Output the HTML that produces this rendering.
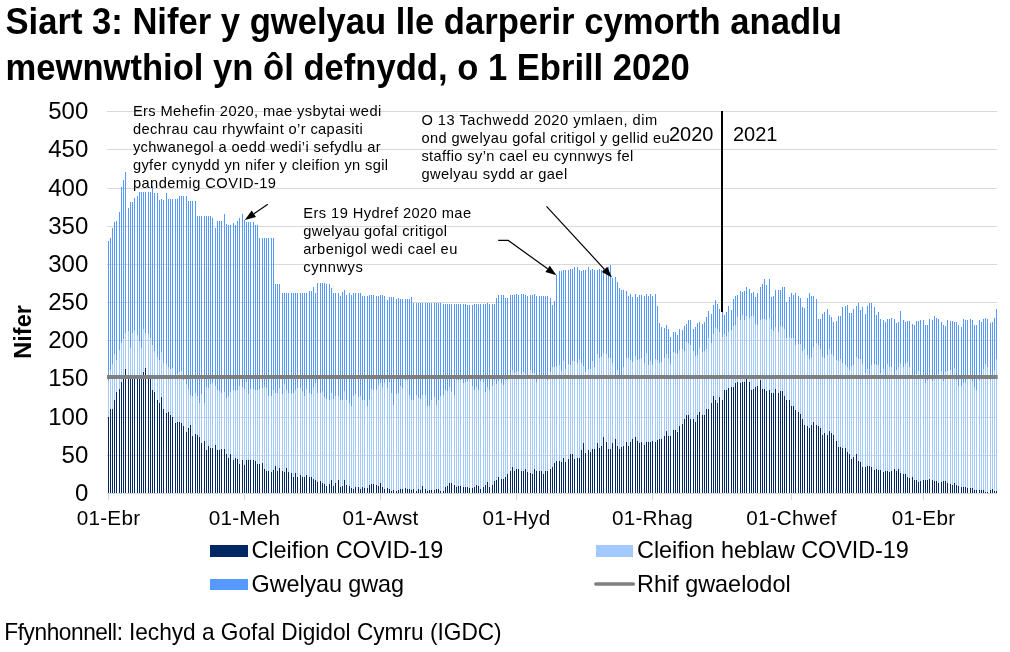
<!DOCTYPE html><html><head><meta charset="utf-8"><title>Siart 3</title><style>html,body{margin:0;padding:0;background:#fff}svg{display:block;will-change:transform}text{font-family:"Liberation Sans",sans-serif;fill:#000}</style></head><body>
<svg width="1010" height="652" viewBox="0 0 1010 652">
<rect width="1010" height="652" fill="#fff"/>
<path d="M107 455H997v1H107zM107 417H997v1H107zM107 378H997v1H107zM107 340H997v1H107zM107 302H997v1H107zM107 264H997v1H107zM107 226H997v1H107zM107 188H997v1H107zM107 149H997v1H107zM107 111H997v1H107z" fill="#D9D9D9" shape-rendering="crispEdges"/>
<path d="M108 241h1V381h-1zM110 238h1V370h-1zM112 228h1V364h-1zM114 222h1V354h-1zM116 221h1V360h-1zM119 212h1V350h-1zM121 187h1V343h-1zM123 180h1V339h-1zM125 172h1V333h-1zM128 208h1V331h-1zM130 202h1V348h-1zM132 202h1V333h-1zM134 198h1V330h-1zM137 196h1V335h-1zM139 192h1V341h-1zM141 192h1V348h-1zM143 192h1V329h-1zM145 192h1V333h-1zM148 192h1V334h-1zM150 192h1V338h-1zM152 186h1V345h-1zM154 193h1V351h-1zM157 193h1V357h-1zM159 200h1V360h-1zM161 199h1V352h-1zM163 200h1V363h-1zM166 193h1V364h-1zM168 199h1V367h-1zM170 199h1V369h-1zM172 199h1V368h-1zM175 199h1V375h-1zM177 199h1V374h-1zM179 196h1V372h-1zM181 196h1V371h-1zM183 196h1V380h-1zM186 196h1V384h-1zM188 201h1V389h-1zM190 201h1V395h-1zM192 201h1V396h-1zM195 201h1V393h-1zM197 216h1V396h-1zM199 216h1V403h-1zM201 216h1V394h-1zM204 216h1V403h-1zM206 216h1V387h-1zM208 216h1V388h-1zM210 216h1V384h-1zM212 218h1V383h-1zM215 228h1V386h-1zM217 221h1V390h-1zM219 221h1V391h-1zM221 221h1V393h-1zM224 214h1V392h-1zM226 224h1V398h-1zM228 225h1V396h-1zM230 225h1V392h-1zM233 223h1V390h-1zM235 225h1V391h-1zM237 221h1V390h-1zM239 218h1V386h-1zM242 214h1V387h-1zM244 220h1V389h-1zM246 222h1V382h-1zM248 222h1V394h-1zM250 222h1V389h-1zM253 222h1V389h-1zM255 225h1V390h-1zM257 225h1V390h-1zM259 238h1V389h-1zM262 238h1V388h-1zM264 238h1V387h-1zM266 238h1V388h-1zM268 238h1V396h-1zM271 238h1V396h-1zM273 238h1V390h-1zM275 284h1V393h-1zM277 284h1V393h-1zM279 284h1V388h-1zM282 293h1V394h-1zM284 293h1V384h-1zM286 293h1V390h-1zM288 293h1V393h-1zM291 293h1V393h-1zM293 293h1V393h-1zM295 293h1V390h-1zM297 293h1V388h-1zM300 293h1V388h-1zM302 293h1V391h-1zM304 293h1V396h-1zM306 293h1V389h-1zM309 291h1V393h-1zM311 291h1V394h-1zM313 287h1V387h-1zM315 293h1V383h-1zM317 283h1V393h-1zM320 283h1V393h-1zM322 283h1V391h-1zM324 283h1V397h-1zM326 284h1V399h-1zM329 284h1V400h-1zM331 288h1V393h-1zM333 293h1V399h-1zM335 293h1V396h-1zM338 293h1V396h-1zM340 296h1V400h-1zM342 292h1V400h-1zM344 290h1V391h-1zM346 295h1V400h-1zM349 293h1V403h-1zM351 295h1V406h-1zM353 293h1V396h-1zM355 293h1V394h-1zM358 293h1V397h-1zM360 293h1V396h-1zM362 296h1V400h-1zM364 296h1V400h-1zM367 296h1V406h-1zM369 295h1V399h-1zM371 295h1V389h-1zM373 295h1V390h-1zM376 296h1V390h-1zM378 296h1V385h-1zM380 295h1V383h-1zM382 295h1V387h-1zM384 296h1V383h-1zM387 300h1V388h-1zM389 297h1V382h-1zM391 297h1V393h-1zM393 297h1V405h-1zM396 299h1V394h-1zM398 298h1V393h-1zM400 299h1V386h-1zM402 299h1V388h-1zM405 299h1V380h-1zM407 299h1V380h-1zM409 299h1V395h-1zM411 297h1V400h-1zM413 303h1V400h-1zM416 303h1V395h-1zM418 303h1V398h-1zM420 303h1V399h-1zM422 303h1V395h-1zM425 303h1V395h-1zM427 303h1V406h-1zM429 303h1V406h-1zM431 303h1V400h-1zM434 303h1V397h-1zM436 303h1V405h-1zM438 303h1V400h-1zM440 303h1V396h-1zM443 304h1V395h-1zM445 304h1V390h-1zM447 304h1V391h-1zM449 304h1V387h-1zM451 304h1V392h-1zM454 304h1V395h-1zM456 304h1V380h-1zM458 304h1V380h-1zM460 304h1V380h-1zM463 304h1V383h-1zM465 304h1V382h-1zM467 305h1V381h-1zM469 305h1V379h-1zM472 305h1V386h-1zM474 304h1V390h-1zM476 304h1V387h-1zM478 304h1V390h-1zM480 304h1V381h-1zM483 304h1V382h-1zM485 304h1V392h-1zM487 303h1V387h-1zM489 304h1V390h-1zM492 304h1V386h-1zM494 304h1V380h-1zM496 298h1V384h-1zM498 295h1V381h-1zM501 295h1V383h-1zM503 295h1V385h-1zM505 298h1V380h-1zM507 298h1V380h-1zM510 295h1V377h-1zM512 295h1V370h-1zM514 295h1V373h-1zM516 294h1V372h-1zM518 295h1V371h-1zM521 294h1V374h-1zM523 294h1V372h-1zM525 295h1V374h-1zM527 296h1V375h-1zM530 295h1V370h-1zM532 295h1V373h-1zM534 294h1V373h-1zM536 296h1V382h-1zM539 296h1V375h-1zM541 296h1V375h-1zM543 296h1V375h-1zM545 296h1V375h-1zM547 296h1V380h-1zM550 298h1V372h-1zM552 305h1V367h-1zM554 301h1V367h-1zM556 275h1V366h-1zM559 271h1V365h-1zM561 271h1V371h-1zM563 270h1V361h-1zM565 270h1V369h-1zM568 270h1V364h-1zM570 269h1V365h-1zM572 269h1V361h-1zM574 267h1V361h-1zM577 267h1V363h-1zM579 270h1V359h-1zM581 271h1V363h-1zM583 270h1V366h-1zM585 270h1V372h-1zM588 267h1V369h-1zM590 270h1V369h-1zM592 269h1V361h-1zM594 270h1V367h-1zM597 270h1V354h-1zM599 269h1V358h-1zM601 270h1V357h-1zM603 269h1V353h-1zM606 268h1V354h-1zM608 267h1V358h-1zM610 265h1V358h-1zM612 278h1V363h-1zM615 277h1V375h-1zM617 282h1V370h-1zM619 288h1V375h-1zM621 290h1V375h-1zM623 290h1V367h-1zM626 291h1V358h-1zM628 296h1V358h-1zM630 294h1V360h-1zM632 297h1V362h-1zM635 294h1V356h-1zM637 297h1V360h-1zM639 295h1V359h-1zM641 295h1V358h-1zM644 296h1V363h-1zM646 294h1V353h-1zM648 296h1V365h-1zM650 294h1V361h-1zM652 296h1V365h-1zM655 294h1V359h-1zM657 306h1V360h-1zM659 323h1V363h-1zM661 327h1V362h-1zM664 328h1V358h-1zM666 325h1V354h-1zM668 329h1V358h-1zM670 337h1V364h-1zM673 332h1V352h-1zM675 332h1V353h-1zM677 335h1V354h-1zM679 329h1V350h-1zM682 330h1V349h-1zM684 326h1V351h-1zM686 324h1V342h-1zM688 320h1V343h-1zM690 320h1V345h-1zM693 329h1V351h-1zM695 327h1V356h-1zM697 323h1V355h-1zM699 322h1V348h-1zM702 324h1V352h-1zM704 322h1V351h-1zM706 317h1V349h-1zM708 311h1V338h-1zM711 314h1V343h-1zM713 305h1V334h-1zM715 300h1V327h-1zM717 304h1V329h-1zM719 309h1V332h-1zM722 312h1V337h-1zM724 315h1V334h-1zM726 312h1V336h-1zM728 306h1V332h-1zM731 310h1V330h-1zM733 299h1V326h-1zM735 296h1V325h-1zM737 295h1V317h-1zM740 291h1V320h-1zM742 292h1V315h-1zM744 291h1V320h-1zM746 287h1V316h-1zM749 289h1V318h-1zM751 293h1V316h-1zM753 292h1V316h-1zM755 297h1V324h-1zM757 293h1V325h-1zM760 287h1V320h-1zM762 284h1V319h-1zM764 279h1V319h-1zM766 285h1V320h-1zM769 279h1V318h-1zM771 297h1V329h-1zM773 296h1V331h-1zM775 290h1V327h-1zM778 290h1V332h-1zM780 290h1V326h-1zM782 287h1V327h-1zM784 287h1V329h-1zM786 302h1V338h-1zM789 297h1V337h-1zM791 293h1V338h-1zM793 295h1V338h-1zM795 293h1V345h-1zM798 296h1V344h-1zM800 298h1V344h-1zM802 307h1V351h-1zM804 308h1V349h-1zM807 298h1V355h-1zM809 293h1V359h-1zM811 296h1V357h-1zM813 296h1V347h-1zM816 299h1V343h-1zM818 319h1V345h-1zM820 319h1V349h-1zM822 314h1V357h-1zM824 312h1V358h-1zM827 309h1V355h-1zM829 315h1V349h-1zM831 317h1V354h-1zM833 322h1V356h-1zM836 321h1V360h-1zM838 316h1V361h-1zM840 316h1V359h-1zM842 307h1V363h-1zM845 306h1V365h-1zM847 305h1V367h-1zM849 313h1V370h-1zM851 313h1V366h-1zM853 309h1V365h-1zM856 306h1V357h-1zM858 303h1V359h-1zM860 310h1V359h-1zM862 307h1V364h-1zM865 314h1V373h-1zM867 306h1V369h-1zM869 303h1V374h-1zM871 303h1V365h-1zM874 307h1V364h-1zM876 315h1V365h-1zM878 312h1V365h-1zM880 319h1V373h-1zM883 320h1V369h-1zM885 322h1V376h-1zM887 319h1V364h-1zM889 319h1V367h-1zM891 318h1V367h-1zM894 319h1V376h-1zM896 323h1V370h-1zM898 322h1V367h-1zM900 311h1V364h-1zM903 320h1V367h-1zM905 322h1V364h-1zM907 321h1V362h-1zM909 321h1V367h-1zM912 324h1V376h-1zM914 325h1V376h-1zM916 321h1V374h-1zM918 321h1V371h-1zM920 320h1V376h-1zM923 320h1V376h-1zM925 325h1V383h-1zM927 325h1V380h-1zM929 319h1V379h-1zM932 320h1V381h-1zM934 316h1V376h-1zM936 318h1V376h-1zM938 319h1V374h-1zM941 322h1V371h-1zM943 325h1V381h-1zM945 326h1V372h-1zM947 320h1V371h-1zM950 321h1V370h-1zM952 321h1V376h-1zM954 322h1V368h-1zM956 322h1V380h-1zM958 325h1V386h-1zM961 327h1V386h-1zM963 319h1V383h-1zM965 320h1V382h-1zM967 320h1V377h-1zM970 319h1V377h-1zM972 320h1V381h-1zM974 325h1V387h-1zM976 325h1V390h-1zM979 320h1V380h-1zM981 322h1V376h-1zM983 319h1V369h-1zM985 318h1V364h-1zM987 319h1V367h-1zM990 323h1V380h-1zM992 322h1V376h-1zM994 318h1V370h-1zM996 309h1V359h-1z" fill="#5599FF" shape-rendering="crispEdges"/>
<path d="M108 381h1V417h-1zM110 370h1V409h-1zM112 364h1V409h-1zM114 354h1V400h-1zM116 360h1V392h-1zM119 350h1V389h-1zM121 343h1V382h-1zM123 339h1V379h-1zM125 333h1V369h-1zM128 331h1V377h-1zM130 348h1V377h-1zM132 333h1V376h-1zM134 330h1V375h-1zM137 335h1V376h-1zM139 341h1V377h-1zM141 348h1V375h-1zM143 329h1V372h-1zM145 333h1V368h-1zM148 334h1V377h-1zM150 338h1V379h-1zM152 345h1V390h-1zM154 351h1V392h-1zM157 357h1V400h-1zM159 360h1V403h-1zM161 352h1V397h-1zM163 363h1V409h-1zM166 364h1V413h-1zM168 367h1V412h-1zM170 369h1V415h-1zM172 368h1V417h-1zM175 375h1V423h-1zM177 374h1V422h-1zM179 372h1V422h-1zM181 371h1V423h-1zM183 380h1V426h-1zM186 384h1V432h-1zM188 389h1V428h-1zM190 395h1V425h-1zM192 396h1V436h-1zM195 393h1V434h-1zM197 396h1V435h-1zM199 403h1V437h-1zM201 394h1V443h-1zM204 403h1V441h-1zM206 387h1V450h-1zM208 388h1V446h-1zM210 384h1V448h-1zM212 383h1V448h-1zM215 386h1V445h-1zM217 390h1V450h-1zM219 391h1V450h-1zM221 393h1V449h-1zM224 392h1V449h-1zM226 398h1V454h-1zM228 396h1V458h-1zM230 392h1V454h-1zM233 390h1V460h-1zM235 391h1V458h-1zM237 390h1V459h-1zM239 386h1V464h-1zM242 387h1V460h-1zM244 389h1V465h-1zM246 382h1V460h-1zM248 394h1V460h-1zM250 389h1V460h-1zM253 389h1V460h-1zM255 390h1V461h-1zM257 390h1V464h-1zM259 389h1V464h-1zM262 388h1V463h-1zM264 387h1V469h-1zM266 388h1V471h-1zM268 396h1V471h-1zM271 396h1V472h-1zM273 390h1V470h-1zM275 393h1V466h-1zM277 393h1V471h-1zM279 388h1V468h-1zM282 394h1V471h-1zM284 384h1V472h-1zM286 390h1V468h-1zM288 393h1V472h-1zM291 393h1V473h-1zM293 393h1V477h-1zM295 390h1V473h-1zM297 388h1V477h-1zM300 388h1V475h-1zM302 391h1V477h-1zM304 396h1V477h-1zM306 389h1V475h-1zM309 393h1V477h-1zM311 394h1V477h-1zM313 387h1V479h-1zM315 383h1V480h-1zM317 393h1V482h-1zM320 393h1V481h-1zM322 391h1V483h-1zM324 397h1V484h-1zM326 399h1V486h-1zM329 400h1V484h-1zM331 393h1V480h-1zM333 399h1V486h-1zM335 396h1V483h-1zM338 396h1V480h-1zM340 400h1V487h-1zM342 400h1V486h-1zM344 391h1V480h-1zM346 400h1V485h-1zM349 403h1V486h-1zM351 406h1V488h-1zM353 396h1V489h-1zM355 394h1V487h-1zM358 397h1V487h-1zM360 396h1V489h-1zM362 400h1V487h-1zM364 400h1V488h-1zM367 406h1V488h-1zM369 399h1V485h-1zM371 389h1V484h-1zM373 390h1V484h-1zM376 390h1V485h-1zM378 385h1V486h-1zM380 383h1V483h-1zM382 387h1V487h-1zM384 383h1V489h-1zM387 388h1V488h-1zM389 382h1V489h-1zM391 393h1V491h-1zM393 405h1V490h-1zM396 394h1V491h-1zM398 393h1V490h-1zM400 386h1V489h-1zM402 388h1V489h-1zM405 380h1V488h-1zM407 380h1V489h-1zM409 395h1V489h-1zM411 400h1V490h-1zM413 400h1V489h-1zM416 395h1V491h-1zM418 398h1V489h-1zM420 399h1V490h-1zM422 395h1V486h-1zM425 395h1V489h-1zM427 406h1V491h-1zM429 406h1V490h-1zM431 400h1V490h-1zM434 397h1V490h-1zM436 405h1V489h-1zM438 400h1V489h-1zM440 396h1V491h-1zM443 395h1V491h-1zM445 390h1V487h-1zM447 391h1V486h-1zM449 387h1V483h-1zM451 392h1V483h-1zM454 395h1V485h-1zM456 380h1V487h-1zM458 380h1V486h-1zM460 380h1V486h-1zM463 383h1V487h-1zM465 382h1V487h-1zM467 381h1V487h-1zM469 379h1V488h-1zM472 386h1V488h-1zM474 390h1V487h-1zM476 387h1V485h-1zM478 390h1V486h-1zM480 381h1V489h-1zM483 382h1V487h-1zM485 392h1V485h-1zM487 387h1V482h-1zM489 390h1V487h-1zM492 386h1V485h-1zM494 380h1V481h-1zM496 384h1V480h-1zM498 381h1V477h-1zM501 383h1V479h-1zM503 385h1V479h-1zM505 380h1V477h-1zM507 380h1V474h-1zM510 377h1V471h-1zM512 370h1V467h-1zM514 373h1V471h-1zM516 372h1V469h-1zM518 371h1V469h-1zM521 374h1V471h-1zM523 372h1V471h-1zM525 374h1V469h-1zM527 375h1V472h-1zM530 370h1V473h-1zM532 373h1V474h-1zM534 373h1V469h-1zM536 382h1V471h-1zM539 375h1V471h-1zM541 375h1V471h-1zM543 375h1V474h-1zM545 375h1V471h-1zM547 380h1V471h-1zM550 372h1V469h-1zM552 367h1V467h-1zM554 367h1V463h-1zM556 366h1V461h-1zM559 365h1V461h-1zM561 371h1V462h-1zM563 361h1V458h-1zM565 369h1V462h-1zM568 364h1V459h-1zM570 365h1V454h-1zM572 361h1V454h-1zM574 361h1V459h-1zM577 363h1V458h-1zM579 359h1V458h-1zM581 363h1V450h-1zM583 366h1V443h-1zM585 372h1V453h-1zM588 369h1V450h-1zM590 369h1V452h-1zM592 361h1V449h-1zM594 367h1V449h-1zM597 354h1V443h-1zM599 358h1V448h-1zM601 357h1V446h-1zM603 353h1V437h-1zM606 354h1V442h-1zM608 358h1V449h-1zM610 358h1V449h-1zM612 363h1V443h-1zM615 375h1V439h-1zM617 370h1V446h-1zM619 375h1V449h-1zM621 375h1V447h-1zM623 367h1V446h-1zM626 358h1V442h-1zM628 358h1V446h-1zM630 360h1V442h-1zM632 362h1V439h-1zM635 356h1V437h-1zM637 360h1V441h-1zM639 359h1V443h-1zM641 358h1V442h-1zM644 363h1V445h-1zM646 353h1V442h-1zM648 365h1V442h-1zM650 361h1V442h-1zM652 365h1V441h-1zM655 359h1V442h-1zM657 360h1V440h-1zM659 363h1V439h-1zM661 362h1V439h-1zM664 358h1V436h-1zM666 354h1V431h-1zM668 358h1V436h-1zM670 364h1V436h-1zM673 352h1V430h-1zM675 353h1V430h-1zM677 354h1V432h-1zM679 350h1V426h-1zM682 349h1V424h-1zM684 351h1V419h-1zM686 342h1V415h-1zM688 343h1V415h-1zM690 345h1V419h-1zM693 351h1V419h-1zM695 356h1V422h-1zM697 355h1V415h-1zM699 348h1V412h-1zM702 352h1V415h-1zM704 351h1V415h-1zM706 349h1V409h-1zM708 338h1V409h-1zM711 343h1V403h-1zM713 334h1V396h-1zM715 327h1V400h-1zM717 329h1V403h-1zM719 332h1V397h-1zM722 337h1V400h-1zM724 334h1V390h-1zM726 336h1V390h-1zM728 332h1V388h-1zM731 330h1V387h-1zM733 326h1V387h-1zM735 325h1V383h-1zM737 317h1V382h-1zM740 320h1V383h-1zM742 315h1V382h-1zM744 320h1V382h-1zM746 316h1V379h-1zM749 318h1V382h-1zM751 316h1V390h-1zM753 316h1V389h-1zM755 324h1V387h-1zM757 325h1V386h-1zM760 320h1V380h-1zM762 319h1V389h-1zM764 319h1V389h-1zM766 320h1V391h-1zM769 318h1V390h-1zM771 329h1V393h-1zM773 331h1V393h-1zM775 327h1V389h-1zM778 332h1V393h-1zM780 326h1V391h-1zM782 327h1V391h-1zM784 329h1V396h-1zM786 338h1V400h-1zM789 337h1V400h-1zM791 338h1V406h-1zM793 338h1V406h-1zM795 345h1V410h-1zM798 344h1V412h-1zM800 344h1V414h-1zM802 351h1V419h-1zM804 349h1V425h-1zM807 355h1V426h-1zM809 359h1V428h-1zM811 357h1V425h-1zM813 347h1V422h-1zM816 343h1V425h-1zM818 345h1V426h-1zM820 349h1V428h-1zM822 357h1V435h-1zM824 358h1V433h-1zM827 355h1V435h-1zM829 349h1V431h-1zM831 354h1V433h-1zM833 356h1V435h-1zM836 360h1V441h-1zM838 361h1V447h-1zM840 359h1V447h-1zM842 363h1V448h-1zM845 365h1V448h-1zM847 367h1V452h-1zM849 370h1V454h-1zM851 366h1V459h-1zM853 365h1V457h-1zM856 357h1V454h-1zM858 359h1V461h-1zM860 359h1V462h-1zM862 364h1V467h-1zM865 373h1V467h-1zM867 369h1V466h-1zM869 374h1V466h-1zM871 365h1V467h-1zM874 364h1V470h-1zM876 365h1V469h-1zM878 365h1V470h-1zM880 373h1V470h-1zM883 369h1V472h-1zM885 376h1V471h-1zM887 364h1V471h-1zM889 367h1V472h-1zM891 367h1V471h-1zM894 376h1V469h-1zM896 370h1V471h-1zM898 367h1V469h-1zM900 364h1V473h-1zM903 367h1V474h-1zM905 364h1V474h-1zM907 362h1V477h-1zM909 367h1V478h-1zM912 376h1V477h-1zM914 376h1V480h-1zM916 374h1V480h-1zM918 371h1V482h-1zM920 376h1V481h-1zM923 376h1V480h-1zM925 383h1V480h-1zM927 380h1V480h-1zM929 379h1V479h-1zM932 381h1V480h-1zM934 376h1V481h-1zM936 376h1V481h-1zM938 374h1V483h-1zM941 371h1V482h-1zM943 381h1V481h-1zM945 372h1V481h-1zM947 371h1V483h-1zM950 370h1V484h-1zM952 376h1V485h-1zM954 368h1V483h-1zM956 380h1V485h-1zM958 386h1V486h-1zM961 386h1V487h-1zM963 383h1V487h-1zM965 382h1V487h-1zM967 377h1V488h-1zM970 377h1V488h-1zM972 381h1V488h-1zM974 387h1V490h-1zM976 390h1V490h-1zM979 380h1V490h-1zM981 376h1V490h-1zM983 369h1V490h-1zM985 364h1V492h-1zM987 367h1V492h-1zM990 380h1V490h-1zM992 376h1V489h-1zM994 370h1V491h-1zM996 359h1V491h-1z" fill="#A2C9FF" shape-rendering="crispEdges"/>
<path d="M108 417h1V493h-1zM110 409h1V493h-1zM112 409h1V493h-1zM114 400h1V493h-1zM116 392h1V493h-1zM119 389h1V493h-1zM121 382h1V493h-1zM123 379h1V493h-1zM125 369h1V493h-1zM128 377h1V493h-1zM130 377h1V493h-1zM132 376h1V493h-1zM134 375h1V493h-1zM137 376h1V493h-1zM139 377h1V493h-1zM141 375h1V493h-1zM143 372h1V493h-1zM145 368h1V493h-1zM148 377h1V493h-1zM150 379h1V493h-1zM152 390h1V493h-1zM154 392h1V493h-1zM157 400h1V493h-1zM159 403h1V493h-1zM161 397h1V493h-1zM163 409h1V493h-1zM166 413h1V493h-1zM168 412h1V493h-1zM170 415h1V493h-1zM172 417h1V493h-1zM175 423h1V493h-1zM177 422h1V493h-1zM179 422h1V493h-1zM181 423h1V493h-1zM183 426h1V493h-1zM186 432h1V493h-1zM188 428h1V493h-1zM190 425h1V493h-1zM192 436h1V493h-1zM195 434h1V493h-1zM197 435h1V493h-1zM199 437h1V493h-1zM201 443h1V493h-1zM204 441h1V493h-1zM206 450h1V493h-1zM208 446h1V493h-1zM210 448h1V493h-1zM212 448h1V493h-1zM215 445h1V493h-1zM217 450h1V493h-1zM219 450h1V493h-1zM221 449h1V493h-1zM224 449h1V493h-1zM226 454h1V493h-1zM228 458h1V493h-1zM230 454h1V493h-1zM233 460h1V493h-1zM235 458h1V493h-1zM237 459h1V493h-1zM239 464h1V493h-1zM242 460h1V493h-1zM244 465h1V493h-1zM246 460h1V493h-1zM248 460h1V493h-1zM250 460h1V493h-1zM253 460h1V493h-1zM255 461h1V493h-1zM257 464h1V493h-1zM259 464h1V493h-1zM262 463h1V493h-1zM264 469h1V493h-1zM266 471h1V493h-1zM268 471h1V493h-1zM271 472h1V493h-1zM273 470h1V493h-1zM275 466h1V493h-1zM277 471h1V493h-1zM279 468h1V493h-1zM282 471h1V493h-1zM284 472h1V493h-1zM286 468h1V493h-1zM288 472h1V493h-1zM291 473h1V493h-1zM293 477h1V493h-1zM295 473h1V493h-1zM297 477h1V493h-1zM300 475h1V493h-1zM302 477h1V493h-1zM304 477h1V493h-1zM306 475h1V493h-1zM309 477h1V493h-1zM311 477h1V493h-1zM313 479h1V493h-1zM315 480h1V493h-1zM317 482h1V493h-1zM320 481h1V493h-1zM322 483h1V493h-1zM324 484h1V493h-1zM326 486h1V493h-1zM329 484h1V493h-1zM331 480h1V493h-1zM333 486h1V493h-1zM335 483h1V493h-1zM338 480h1V493h-1zM340 487h1V493h-1zM342 486h1V493h-1zM344 480h1V493h-1zM346 485h1V493h-1zM349 486h1V493h-1zM351 488h1V493h-1zM353 489h1V493h-1zM355 487h1V493h-1zM358 487h1V493h-1zM360 489h1V493h-1zM362 487h1V493h-1zM364 488h1V493h-1zM367 488h1V493h-1zM369 485h1V493h-1zM371 484h1V493h-1zM373 484h1V493h-1zM376 485h1V493h-1zM378 486h1V493h-1zM380 483h1V493h-1zM382 487h1V493h-1zM384 489h1V493h-1zM387 488h1V493h-1zM389 489h1V493h-1zM391 491h1V493h-1zM393 490h1V493h-1zM396 491h1V493h-1zM398 490h1V493h-1zM400 489h1V493h-1zM402 489h1V493h-1zM405 488h1V493h-1zM407 489h1V493h-1zM409 489h1V493h-1zM411 490h1V493h-1zM413 489h1V493h-1zM416 491h1V493h-1zM418 489h1V493h-1zM420 490h1V493h-1zM422 486h1V493h-1zM425 489h1V493h-1zM427 491h1V493h-1zM429 490h1V493h-1zM431 490h1V493h-1zM434 490h1V493h-1zM436 489h1V493h-1zM438 489h1V493h-1zM440 491h1V493h-1zM443 491h1V493h-1zM445 487h1V493h-1zM447 486h1V493h-1zM449 483h1V493h-1zM451 483h1V493h-1zM454 485h1V493h-1zM456 487h1V493h-1zM458 486h1V493h-1zM460 486h1V493h-1zM463 487h1V493h-1zM465 487h1V493h-1zM467 487h1V493h-1zM469 488h1V493h-1zM472 488h1V493h-1zM474 487h1V493h-1zM476 485h1V493h-1zM478 486h1V493h-1zM480 489h1V493h-1zM483 487h1V493h-1zM485 485h1V493h-1zM487 482h1V493h-1zM489 487h1V493h-1zM492 485h1V493h-1zM494 481h1V493h-1zM496 480h1V493h-1zM498 477h1V493h-1zM501 479h1V493h-1zM503 479h1V493h-1zM505 477h1V493h-1zM507 474h1V493h-1zM510 471h1V493h-1zM512 467h1V493h-1zM514 471h1V493h-1zM516 469h1V493h-1zM518 469h1V493h-1zM521 471h1V493h-1zM523 471h1V493h-1zM525 469h1V493h-1zM527 472h1V493h-1zM530 473h1V493h-1zM532 474h1V493h-1zM534 469h1V493h-1zM536 471h1V493h-1zM539 471h1V493h-1zM541 471h1V493h-1zM543 474h1V493h-1zM545 471h1V493h-1zM547 471h1V493h-1zM550 469h1V493h-1zM552 467h1V493h-1zM554 463h1V493h-1zM556 461h1V493h-1zM559 461h1V493h-1zM561 462h1V493h-1zM563 458h1V493h-1zM565 462h1V493h-1zM568 459h1V493h-1zM570 454h1V493h-1zM572 454h1V493h-1zM574 459h1V493h-1zM577 458h1V493h-1zM579 458h1V493h-1zM581 450h1V493h-1zM583 443h1V493h-1zM585 453h1V493h-1zM588 450h1V493h-1zM590 452h1V493h-1zM592 449h1V493h-1zM594 449h1V493h-1zM597 443h1V493h-1zM599 448h1V493h-1zM601 446h1V493h-1zM603 437h1V493h-1zM606 442h1V493h-1zM608 449h1V493h-1zM610 449h1V493h-1zM612 443h1V493h-1zM615 439h1V493h-1zM617 446h1V493h-1zM619 449h1V493h-1zM621 447h1V493h-1zM623 446h1V493h-1zM626 442h1V493h-1zM628 446h1V493h-1zM630 442h1V493h-1zM632 439h1V493h-1zM635 437h1V493h-1zM637 441h1V493h-1zM639 443h1V493h-1zM641 442h1V493h-1zM644 445h1V493h-1zM646 442h1V493h-1zM648 442h1V493h-1zM650 442h1V493h-1zM652 441h1V493h-1zM655 442h1V493h-1zM657 440h1V493h-1zM659 439h1V493h-1zM661 439h1V493h-1zM664 436h1V493h-1zM666 431h1V493h-1zM668 436h1V493h-1zM670 436h1V493h-1zM673 430h1V493h-1zM675 430h1V493h-1zM677 432h1V493h-1zM679 426h1V493h-1zM682 424h1V493h-1zM684 419h1V493h-1zM686 415h1V493h-1zM688 415h1V493h-1zM690 419h1V493h-1zM693 419h1V493h-1zM695 422h1V493h-1zM697 415h1V493h-1zM699 412h1V493h-1zM702 415h1V493h-1zM704 415h1V493h-1zM706 409h1V493h-1zM708 409h1V493h-1zM711 403h1V493h-1zM713 396h1V493h-1zM715 400h1V493h-1zM717 403h1V493h-1zM719 397h1V493h-1zM722 400h1V493h-1zM724 390h1V493h-1zM726 390h1V493h-1zM728 388h1V493h-1zM731 387h1V493h-1zM733 387h1V493h-1zM735 383h1V493h-1zM737 382h1V493h-1zM740 383h1V493h-1zM742 382h1V493h-1zM744 382h1V493h-1zM746 379h1V493h-1zM749 382h1V493h-1zM751 390h1V493h-1zM753 389h1V493h-1zM755 387h1V493h-1zM757 386h1V493h-1zM760 380h1V493h-1zM762 389h1V493h-1zM764 389h1V493h-1zM766 391h1V493h-1zM769 390h1V493h-1zM771 393h1V493h-1zM773 393h1V493h-1zM775 389h1V493h-1zM778 393h1V493h-1zM780 391h1V493h-1zM782 391h1V493h-1zM784 396h1V493h-1zM786 400h1V493h-1zM789 400h1V493h-1zM791 406h1V493h-1zM793 406h1V493h-1zM795 410h1V493h-1zM798 412h1V493h-1zM800 414h1V493h-1zM802 419h1V493h-1zM804 425h1V493h-1zM807 426h1V493h-1zM809 428h1V493h-1zM811 425h1V493h-1zM813 422h1V493h-1zM816 425h1V493h-1zM818 426h1V493h-1zM820 428h1V493h-1zM822 435h1V493h-1zM824 433h1V493h-1zM827 435h1V493h-1zM829 431h1V493h-1zM831 433h1V493h-1zM833 435h1V493h-1zM836 441h1V493h-1zM838 447h1V493h-1zM840 447h1V493h-1zM842 448h1V493h-1zM845 448h1V493h-1zM847 452h1V493h-1zM849 454h1V493h-1zM851 459h1V493h-1zM853 457h1V493h-1zM856 454h1V493h-1zM858 461h1V493h-1zM860 462h1V493h-1zM862 467h1V493h-1zM865 467h1V493h-1zM867 466h1V493h-1zM869 466h1V493h-1zM871 467h1V493h-1zM874 470h1V493h-1zM876 469h1V493h-1zM878 470h1V493h-1zM880 470h1V493h-1zM883 472h1V493h-1zM885 471h1V493h-1zM887 471h1V493h-1zM889 472h1V493h-1zM891 471h1V493h-1zM894 469h1V493h-1zM896 471h1V493h-1zM898 469h1V493h-1zM900 473h1V493h-1zM903 474h1V493h-1zM905 474h1V493h-1zM907 477h1V493h-1zM909 478h1V493h-1zM912 477h1V493h-1zM914 480h1V493h-1zM916 480h1V493h-1zM918 482h1V493h-1zM920 481h1V493h-1zM923 480h1V493h-1zM925 480h1V493h-1zM927 480h1V493h-1zM929 479h1V493h-1zM932 480h1V493h-1zM934 481h1V493h-1zM936 481h1V493h-1zM938 483h1V493h-1zM941 482h1V493h-1zM943 481h1V493h-1zM945 481h1V493h-1zM947 483h1V493h-1zM950 484h1V493h-1zM952 485h1V493h-1zM954 483h1V493h-1zM956 485h1V493h-1zM958 486h1V493h-1zM961 487h1V493h-1zM963 487h1V493h-1zM965 487h1V493h-1zM967 488h1V493h-1zM970 488h1V493h-1zM972 488h1V493h-1zM974 490h1V493h-1zM976 490h1V493h-1zM979 490h1V493h-1zM981 490h1V493h-1zM983 490h1V493h-1zM985 492h1V493h-1zM987 492h1V493h-1zM990 490h1V493h-1zM992 489h1V493h-1zM994 491h1V493h-1zM996 491h1V493h-1z" fill="#002664" shape-rendering="crispEdges"/>
<path d="M107 493H997v1H107z" fill="#D9D9D9" shape-rendering="crispEdges"/>
<path d="M108 494h1v6h-1zM244 494h1v6h-1zM380 494h1v6h-1zM516 494h1v6h-1zM652 494h1v6h-1zM791 494h1v6h-1zM923 494h1v6h-1z" fill="#D9D9D9" shape-rendering="crispEdges"/>
<rect x="107" y="375" width="890.7" height="4" fill="#7F7F7F"/>
<path d="M722 111V312" stroke="#000" stroke-width="2" fill="none"/>
<text x="88.3" y="501.1" font-size="24" text-anchor="end">0</text>
<text x="88.3" y="463.1" font-size="24" text-anchor="end">50</text>
<text x="88.3" y="425.1" font-size="24" text-anchor="end">100</text>
<text x="88.3" y="386.1" font-size="24" text-anchor="end">150</text>
<text x="88.3" y="348.1" font-size="24" text-anchor="end">200</text>
<text x="88.3" y="310.1" font-size="24" text-anchor="end">250</text>
<text x="88.3" y="272.1" font-size="24" text-anchor="end">300</text>
<text x="88.3" y="234.1" font-size="24" text-anchor="end">350</text>
<text x="88.3" y="196.1" font-size="24" text-anchor="end">400</text>
<text x="88.3" y="157.1" font-size="24" text-anchor="end">450</text>
<text x="88.3" y="119.1" font-size="24" text-anchor="end">500</text>
<text x="108.5" y="524.7" font-size="20.7" letter-spacing="0.25" text-anchor="middle">01-Ebr</text>
<text x="244.5" y="524.7" font-size="20.7" letter-spacing="0.25" text-anchor="middle">01-Meh</text>
<text x="380.5" y="524.7" font-size="20.7" letter-spacing="0.25" text-anchor="middle">01-Awst</text>
<text x="516.5" y="524.7" font-size="20.7" letter-spacing="0.25" text-anchor="middle">01-Hyd</text>
<text x="652.5" y="524.7" font-size="20.7" letter-spacing="0.25" text-anchor="middle">01-Rhag</text>
<text x="791.5" y="524.7" font-size="20.7" letter-spacing="0.25" text-anchor="middle">01-Chwef</text>
<text x="923.5" y="524.7" font-size="20.7" letter-spacing="0.25" text-anchor="middle">01-Ebr</text>
<text transform="translate(30.8,331.9) rotate(-90)" font-size="23.5" font-weight="bold" text-anchor="middle">Nifer</text>
<text transform="translate(5.5,34.3) scale(1,1.05)" font-size="34.6" font-weight="bold">Siart 3: Nifer y gwelyau lle darperir cymorth anadlu</text>
<text transform="translate(5.5,79.6) scale(1,1.05)" font-size="34.6" font-weight="bold">mewnwthiol yn ôl defnydd, o 1 Ebrill 2020</text>
<text transform="translate(132.9,116.0) scale(1,1.045)" font-size="14.67" textLength="248.3" lengthAdjust="spacing">Ers Mehefin 2020, mae ysbytai wedi</text>
<text transform="translate(132.9,134.0) scale(1,1.045)" font-size="14.67" textLength="229.8" lengthAdjust="spacing">dechrau cau rhywfaint o’r capasiti</text>
<text transform="translate(132.9,152.0) scale(1,1.045)" font-size="14.67" textLength="247.7" lengthAdjust="spacing">ychwanegol a oedd wedi’i sefydlu ar</text>
<text transform="translate(132.9,170.0) scale(1,1.045)" font-size="14.67" textLength="255.1" lengthAdjust="spacing">gyfer cynydd yn nifer y cleifion yn sgil</text>
<text transform="translate(132.9,188.0) scale(1,1.045)" font-size="14.67" textLength="143.1" lengthAdjust="spacing">pandemig COVID-19</text>
<text transform="translate(303.3,218.0) scale(1,1.045)" font-size="14.67" textLength="167.8" lengthAdjust="spacing">Ers 19 Hydref 2020 mae</text>
<text transform="translate(303.3,236.0) scale(1,1.045)" font-size="14.67" textLength="143.8" lengthAdjust="spacing">gwelyau gofal critigol</text>
<text transform="translate(303.3,254.0) scale(1,1.045)" font-size="14.67" textLength="154.0" lengthAdjust="spacing">arbenigol wedi cael eu</text>
<text transform="translate(303.3,272.0) scale(1,1.045)" font-size="14.67" textLength="59.5" lengthAdjust="spacing">cynnwys</text>
<text transform="translate(421.4,125.0) scale(1,1.045)" font-size="14.67" textLength="235.8" lengthAdjust="spacing">O 13 Tachwedd 2020 ymlaen, dim</text>
<text transform="translate(421.4,143.0) scale(1,1.045)" font-size="14.67" textLength="248.3" lengthAdjust="spacing">ond gwelyau gofal critigol y gellid eu</text>
<text transform="translate(421.4,161.0) scale(1,1.045)" font-size="14.67" textLength="211.8" lengthAdjust="spacing">staffio sy’n cael eu cynnwys fel</text>
<text transform="translate(421.4,179.0) scale(1,1.045)" font-size="14.67" textLength="145.8" lengthAdjust="spacing">gwelyau sydd ar gael</text>
<text x="669" y="141.1" font-size="20">2020</text>
<text x="733" y="141.1" font-size="20">2021</text>
<path d="M267.8 204.2 L253.9 213.8" stroke="#000" stroke-width="1.2" fill="none"/>
<path d="M244.8 220.0L251.7 210.6L256.0 216.9z" fill="#000"/>
<path d="M498.2 240.4 L508.2 240.4 L547.6 268.8" stroke="#000" stroke-width="1.2" fill="none"/>
<path d="M556.5 275.2L545.4 271.9L549.8 265.7z" fill="#000"/>
<path d="M546.5 206.3 L604.5 269.3" stroke="#000" stroke-width="1.2" fill="none"/>
<path d="M612.0 277.4L601.8 271.9L607.3 266.7z" fill="#000"/>
<rect x="210" y="545" width="38" height="12" fill="#002664"/>
<text x="251.6" y="558" font-size="23.4" textLength="191.6" lengthAdjust="spacing">Cleifion COVID-19</text>
<rect x="210" y="579" width="38" height="11" fill="#5599FF"/>
<text x="251.6" y="592" font-size="23.4" textLength="152.3" lengthAdjust="spacing">Gwelyau gwag</text>
<rect x="596" y="545" width="37" height="12" fill="#A2C9FF"/>
<text x="637.1" y="558" font-size="23.4" textLength="271.6" lengthAdjust="spacing">Cleifion heblaw COVID-19</text>
<path d="M596 584H633.2" stroke="#7F7F7F" stroke-width="3.7" stroke-linecap="round" fill="none"/>
<text x="637.0" y="592" font-size="23.4" textLength="153.6" lengthAdjust="spacing">Rhif gwaelodol</text>
<text transform="translate(4.3,640) scale(1,1.05)" font-size="22.67"><tspan letter-spacing="-0.43">Ffynhonnell:</tspan> Iechyd a Gofal Digidol Cymru (IGDC)</text>
</svg></body></html>
